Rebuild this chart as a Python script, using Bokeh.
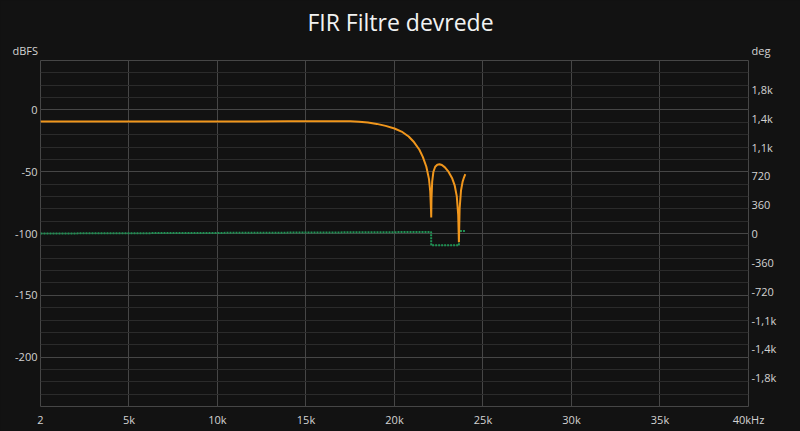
from bokeh.plotting import figure
from bokeh.models import Range1d, LinearAxis, FixedTicker, Label, ColumnDataSource
from bokeh.embed import file_html
from bokeh.resources import INLINE

# ---- data ----
mag_freq = [2, 1000, 3000, 5000, 8000, 10000, 12000, 14000, 16000, 17000, 17500,
            18000, 18500, 19000, 19500, 20000, 20400, 20800, 21100, 21400, 21600,
            21800, 21950, 22020, 22060, 22075, 22090, 22130, 22200, 22300, 22420,
            22540, 22680, 22850, 23050, 23250, 23400, 23520, 23600, 23640, 23680,
            23760, 23850, 23930, 24000]
mag_db = [-9.3, -9.3, -9.3, -9.3, -9.3, -9.3, -9.3, -9.2, -9.1, -9.1, -9.2,
          -9.5, -10.2, -11.3, -12.9, -15.0, -17.5, -21.5, -26.0, -32.0, -38.0,
          -46.0, -56.0, -66.0, -80.0, -87.0, -72.0, -58.0, -50.0, -46.0, -44.3,
          -44.0, -44.6, -46.5, -50.0, -55.0, -61.0, -70.0, -85.0, -107.0, -80.0,
          -65.0, -58.0, -54.5, -52.0]

phase_freq = [2, 4000, 8000, 12000, 16000, 20000, 22070, 22075, 23000, 23640, 23645, 24000]
phase_deg = [0, 3, 6, 9, 13, 17, 20, -148, -148, -148, 30, 32]

x_ticks = [2, 5000, 10000, 15000, 20000, 25000, 30000, 35000, 40000]
x_labels = ["2", "5k", "10k", "15k", "20k", "25k", "30k", "35k", "40kHz"]
db_ticks = [-200, -150, -100, -50, 0]
db_minor = list(range(-240, 41, 10))
deg_ticks = [-1800, -1440, -1080, -720, -360, 0, 360, 720, 1080, 1440, 1800]
deg_labels = ["-1,8k", "-1,4k", "-1,1k", "-720", "-360", "0", "360", "720", "1,1k", "1,4k", "1,8k"]
title_text = "FIR Filtre devrede"
left_unit = "dBFS"
right_unit = "deg"

BG = "#121212"
GRID = "#464646"
MINOR = "#2b2b2b"
TXT = "#d2d2d2"
FONT = "Open Sans"

X0, X1 = 2, 40000
Y0, Y1 = -240, 40

p = figure(width=800, height=431, output_backend="svg", toolbar_location=None,
           x_range=Range1d(X0, X1), y_range=Range1d(Y0, Y1),
           min_border_left=40, min_border_right=52, min_border_top=60, min_border_bottom=25)
p.title_location = None
p.extra_y_ranges = {"deg": Range1d(-2160, 2160)}

p.background_fill_color = BG
p.border_fill_color = BG
p.outline_line_color = GRID
p.outline_line_width = 1

# x axis
xa = p.xaxis[0]
xa.ticker = FixedTicker(ticks=x_ticks)
xa.major_label_overrides = {t: l for t, l in zip(x_ticks, x_labels)}

# left axis
ya = p.yaxis[0]
ya.ticker = FixedTicker(ticks=db_ticks, minor_ticks=db_minor)
ya.major_label_overrides = {t: str(t) for t in db_ticks}

# right axis
ra = LinearAxis(y_range_name="deg",
                ticker=FixedTicker(ticks=deg_ticks),
                major_label_overrides={t: l for t, l in zip(deg_ticks, deg_labels)})
p.add_layout(ra, "right")

for ax in [xa, ya, ra]:
    ax.axis_line_color = None
    ax.major_tick_line_color = None
    ax.minor_tick_line_color = None
    ax.major_tick_out = 0
    ax.major_tick_in = 0
    ax.minor_tick_out = 0
    ax.minor_tick_in = 0
    ax.major_label_text_color = TXT
    ax.major_label_text_font = FONT
    ax.major_label_text_font_size = "11px"
    ax.major_label_standoff = 3
xa.major_label_standoff = 5

p.xgrid.ticker = FixedTicker(ticks=x_ticks)
p.xgrid.grid_line_color = GRID
p.ygrid.grid_line_color = GRID
p.ygrid.minor_grid_line_color = MINOR

# curves
mag_src = ColumnDataSource(dict(f=mag_freq, v=mag_db))
ph_src = ColumnDataSource(dict(f=phase_freq, v=phase_deg))
p.line("f", "v", source=ph_src, y_range_name="deg", line_color="#1f9254",
       line_width=2, line_dash="2 1")
p.line("f", "v", source=mag_src, line_color="#f0961c", line_width=2)

# texts above the frame, anchored to the frame corners
dbfs_label = Label(x=X0, y=Y1, x_offset=-28, y_offset=10, text=left_unit,
                   text_font=FONT, text_font_size="11px", text_color=TXT,
                   text_baseline="alphabetic", text_align="left")
title_label = Label(x=(X0 + X1) / 2, y=Y1, x_offset=6, y_offset=39, text=title_text,
                    text_font=FONT, text_font_size="23px", text_color="#f2f2f2",
                    text_baseline="alphabetic", text_align="center")
deg_label = Label(x=X1, y=Y1, x_offset=3, y_offset=10, text=right_unit,
                  text_font=FONT, text_font_size="11px", text_color=TXT,
                  text_baseline="alphabetic", text_align="left")
p.add_layout(dbfs_label, "above")
p.add_layout(title_label, "above")
p.add_layout(deg_label, "right")

html = file_html(p, INLINE, title=title_text)
html = html.replace("</head>", "<style>html,body{background:#121212;}</style></head>", 1)
open("out.html", "w").write(html)
